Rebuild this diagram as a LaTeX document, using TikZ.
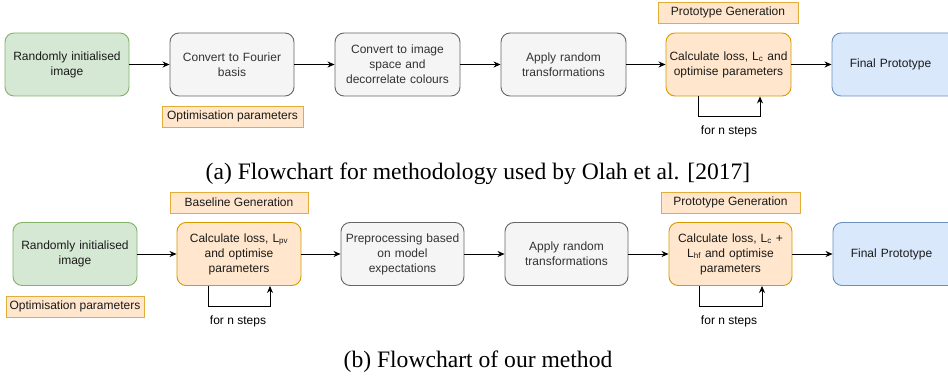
\documentclass[tikz,border=0pt]{standalone}
\usepackage{fontspec}
\setmainfont{Liberation Serif}
\newfontfamily\boxfont{Liberation Sans}
\usetikzlibrary{arrows.meta}
\definecolor{greenfill}{HTML}{D5E8D4}
\definecolor{greenline}{HTML}{82B366}
\definecolor{greyfill}{HTML}{F5F5F5}
\definecolor{greyline}{HTML}{666666}
\definecolor{greytext}{HTML}{333333}
\definecolor{orangefill}{HTML}{FFE6CC}
\definecolor{orangeline}{HTML}{D79B00}
\definecolor{tagline}{HTML}{E3AD3A}
\definecolor{bluefill}{HTML}{DAE8FC}
\definecolor{blueline}{HTML}{6C8EBF}
\definecolor{inktext}{HTML}{1A1A1A}
\begin{document}
\begin{tikzpicture}[x=1pt,y=-1pt,
  every node/.style={font=\boxfont\fontsize{12}{15}\selectfont, align=center, inner sep=0pt},
  box/.style={rectangle, rounded corners=9pt, line width=0.9pt, minimum height=63pt, text width=#1},
  box/.default=118pt,
  startbox/.style={box, fill=greenfill, draw=greenline, text=inktext},
  plainbox/.style={box, fill=greyfill, draw=greyline, text=greytext},
  lossbox/.style={box, fill=orangefill, draw=orangeline, text=inktext},
  endbox/.style={box, fill=bluefill, draw=blueline, text=inktext},
  tag/.style={rectangle, fill=orangefill, draw=tagline, line width=0.9pt, minimum height=21pt, text=inktext},
  flow/.style={draw=black, line width=0.9pt, -{Stealth[length=7pt,width=6pt]}},
  caption/.style={font=\rmfamily\fontsize{23.6}{28}\selectfont, text=black}
]
\clip (0,0) rectangle (948,377);
\fill[white] (0,0) rectangle (948,377);

% --- (a) pipeline ---
\node[startbox, minimum width=124pt] (a1) at (67,64.5) {Randomly initialised\\image};
\node[plainbox, minimum width=124pt] (a2) at (232,64.5) {Convert to Fourier\\basis};
\node[plainbox, minimum width=125pt] (a3) at (397.5,64.5) {Convert to image\\space and\\decorrelate colours};
\node[plainbox, minimum width=125pt] (a4) at (563.5,64.5) {Apply random\\transformations};
\node[lossbox, box=124pt, minimum width=125pt] (a5) at (728.5,64.5) {Calculate loss, L\textsubscript{c} and\\optimise parameters};
\node[endbox, minimum width=125pt] (a6) at (894.5,64.5) {\hspace*{-8pt}Final Prototype};

\node[tag, minimum width=140pt] (pga) at (728,12.5) {Prototype Generation};
\node[tag, minimum width=141pt] (opa) at (232.5,116.5) {Optimisation parameters};

\draw[flow] (a1) -- (a2);
\draw[flow] (a2) -- (a3);
\draw[flow] (a3) -- (a4);
\draw[flow] (a4) -- (a5);
\draw[flow] (a5) -- (a6);

\coordinate (la1) at (698,116);
\coordinate (la2) at (760,116);
\draw[flow] (a5.south -| la1) -- (la1) -- (la2) -- (a5.south -| la2);
\node (na) at (729,131) {for n steps};

\node[caption] (capa) at (478,174) {(a) Flowchart for methodology used by Olah et al. [2017]};

% --- (b) pipeline ---
\node[startbox, minimum width=124pt] (b1) at (75,254) {Randomly initialised\\image};
\node[lossbox, minimum width=124pt] (b2) at (239,254) {Calculate loss, L\textsubscript{pv}\\and optimise\\parameters};
\node[plainbox, minimum width=123pt] (b3) at (402.5,254) {Preprocessing based\\on model\\expectations};
\node[plainbox, minimum width=123pt] (b4) at (566.5,254) {Apply random\\transformations};
\node[lossbox, minimum width=123pt] (b5) at (730.5,254) {Calculate loss, L\textsubscript{c} +\\L\textsubscript{hf} and optimise\\parameters};
\node[endbox, minimum width=125pt] (b6) at (895.5,254) {\hspace*{-8pt}Final Prototype};

\node[tag, minimum width=138pt] (bgb) at (239,202.5) {Baseline Generation};
\node[tag, minimum width=139pt] (pgb) at (730.5,202.5) {Prototype Generation};
\node[tag, minimum width=138pt] (opb) at (75,306.5) {Optimisation parameters};

\draw[flow] (b1) -- (b2);
\draw[flow] (b2) -- (b3);
\draw[flow] (b3) -- (b4);
\draw[flow] (b4) -- (b5);
\draw[flow] (b5) -- (b6);

\coordinate (lb1) at (208,306);
\coordinate (lb2) at (270,306);
\draw[flow] (b2.south -| lb1) -- (lb1) -- (lb2) -- (b2.south -| lb2);
\node (nb1) at (238,321) {for n steps};

\coordinate (lc1) at (699,306);
\coordinate (lc2) at (762,306);
\draw[flow] (b5.south -| lc1) -- (lc1) -- (lc2) -- (b5.south -| lc2);
\node (nb2) at (729,321) {for n steps};

\node[caption] (capb) at (478,362) {(b) Flowchart of our method};
\end{tikzpicture}
\end{document}
